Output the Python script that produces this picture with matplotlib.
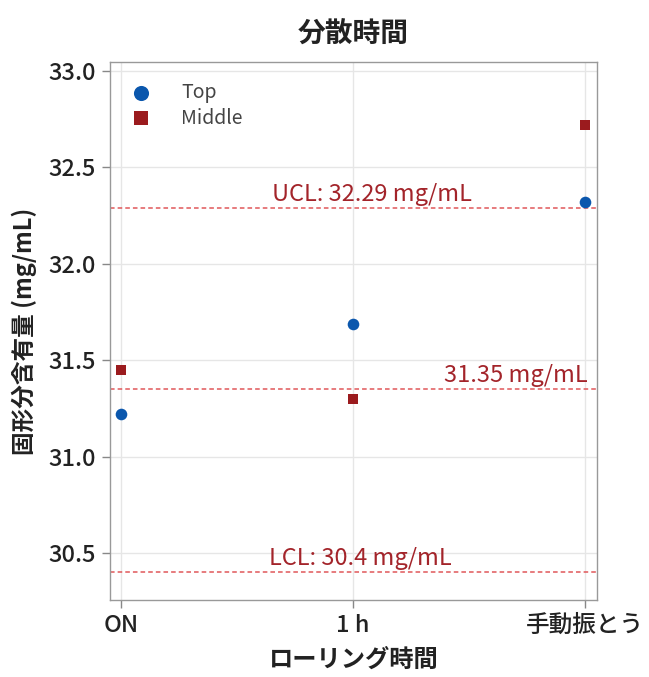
import matplotlib
matplotlib.use("Agg")
import matplotlib.pyplot as plt

plt.rcParams['font.family'] = ['Noto Sans CJK JP', 'DejaVu Sans']

categories = ["ON", "1 h", "手動振とう"]
top_values = [31.22, 31.69, 32.32]
middle_values = [31.45, 31.30, 32.72]
ucl = 32.29
center = 31.35
lcl = 30.4
yticks = [30.5, 31.0, 31.5, 32.0, 32.5, 33.0]

fig = plt.figure(figsize=(6.49, 6.77), dpi=100)
ax = fig.add_axes([110/649, 1-600/677, 487/649, 538/677])

x = list(range(len(categories)))
ax.scatter(x, top_values, marker='o', s=70, color='#0b57ad', label='Top', zorder=3, linewidths=0)
ax.scatter(x, middle_values, marker='s', s=62, color='#9b1b1e', label='Middle', zorder=3, linewidths=0)

line_color = '#e0575a'
text_color = '#a3242a'
for v in (ucl, center, lcl):
    ax.axhline(v, color=line_color, linestyle=(0, (3, 2)), linewidth=1.1, zorder=2)

ax.text(1.08, ucl + 0.01, f"UCL: {ucl:.2f} mg/mL", color=text_color, fontsize=17, ha='center', va='bottom')
ax.text(2.01, center + 0.01, f"{center:.2f} mg/mL", color=text_color, fontsize=17, ha='right', va='bottom')
ax.text(1.03, lcl + 0.01, f"LCL: {lcl} mg/mL", color=text_color, fontsize=17, ha='center', va='bottom')

ax.set_xlim(-0.047, 2.05)
ax.set_ylim(30.256, 33.047)
ax.set_xticks(x)
ax.set_xticklabels(categories, fontsize=17, fontweight='medium')
ax.set_yticks(yticks)
ax.set_yticklabels([f"{t:.1f}" for t in yticks], fontsize=17, fontweight='medium')

ax.grid(True, color='#e6e6e6', linewidth=1.0, zorder=0)
ax.set_axisbelow(True)
for s in ax.spines.values():
    s.set_color('#999999')
    s.set_linewidth(1.0)
ax.tick_params(axis='both', colors='#888888', labelcolor='#222222', length=6, width=1, direction='out', pad=4)

ax.set_title("分散時間", fontsize=20, fontweight='bold', pad=14, color='#222222')
ax.set_xlabel("ローリング時間", fontsize=17.5, fontweight='bold', labelpad=8, color='#222222')
ax.set_ylabel("固形分含有量 (mg/mL)", fontsize=17, fontweight='bold', labelpad=8, color='#222222')

leg = ax.legend(loc='upper left', frameon=False, fontsize=14, handletextpad=1.05,
                borderaxespad=0.2, labelspacing=0.25, markerscale=1.3, bbox_to_anchor=(0.0, 0.985))
for t in leg.get_texts():
    t.set_color('#444444')

fig.savefig("out.png", dpi=100)
